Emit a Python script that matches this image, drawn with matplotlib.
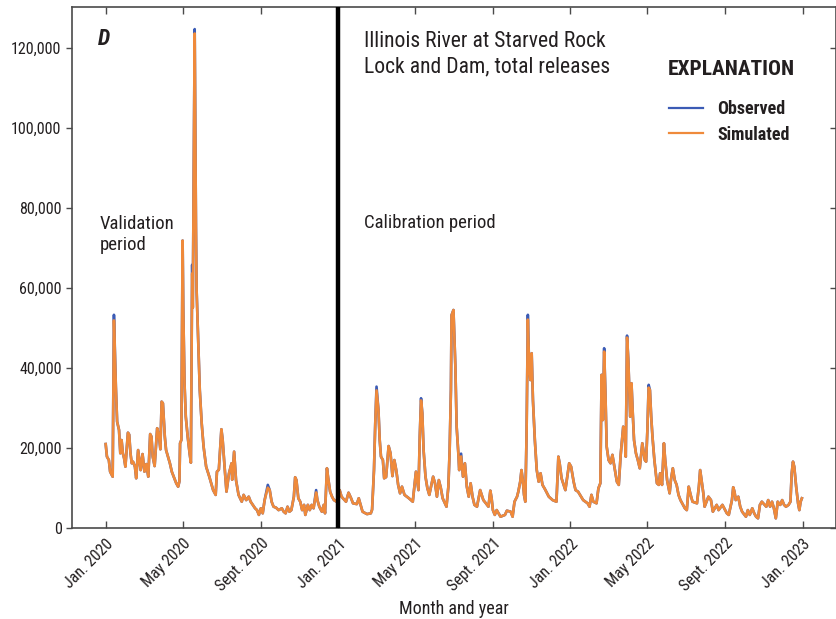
import matplotlib
matplotlib.use("Agg")
import matplotlib.pyplot as plt
from matplotlib.ticker import FuncFormatter
import pandas as pd

plt.rcParams['font.family'] = ['Roboto Condensed', 'DejaVu Sans']

# daily record starts 2020-01-01; day = days since that date
day = [0, 2, 5, 7, 11, 13, 16, 18, 21, 23, 25, 27, 29, 31, 35, 37, 39, 41, 43, 46,
       48, 51, 55, 58, 61, 64, 67, 70, 72, 74, 77, 81, 84, 86, 88, 90, 93, 95, 101, 104,
       107, 111, 114, 116, 117, 119, 121, 122, 124, 126, 129, 132, 134, 136, 137, 140, 142, 143, 145, 148,
       151, 154, 158, 163, 169, 173, 175, 178, 182, 184, 187, 190, 194, 198, 199, 202, 205, 209, 214, 217,
       221, 225, 228, 235, 238, 241, 244, 247, 250, 255, 258, 261, 264, 268, 272, 277, 280, 283, 286, 289,
       292, 296, 298, 300, 303, 306, 309, 312, 314, 318, 321, 324, 327, 331, 333, 336, 340, 343, 345, 348,
       350, 353, 356, 359, 363, 368, 371, 378, 382, 386, 389, 395, 398, 401, 404, 411, 417, 419, 422, 424,
       426, 429, 431, 433, 436, 438, 441, 445, 448, 451, 454, 457, 460, 463, 466, 470, 477, 483, 486, 488,
       492, 494, 496, 498, 500, 503, 506, 509, 515, 518, 521, 524, 527, 530, 536, 539, 541, 543, 544, 547,
       550, 552, 555, 556, 559, 562, 565, 568, 571, 574, 577, 580, 584, 589, 594, 598, 602, 605, 607, 609,
       612, 615, 618, 621, 628, 631, 637, 640, 643, 647, 649, 652, 654, 656, 658, 660, 662, 664, 666, 668,
       670, 672, 675, 678, 681, 684, 687, 691, 697, 703, 709, 712, 714, 717, 723, 726, 729, 732, 736, 739,
       743, 751, 758, 761, 764, 767, 772, 775, 778, 780, 782, 784, 786, 788, 791, 794, 797, 801, 804, 807,
       810, 814, 816, 818, 820, 822, 825, 827, 829, 831, 834, 837, 840, 844, 848, 850, 852, 854, 856, 858,
       860, 863, 867, 870, 872, 875, 878, 880, 883, 887, 889, 892, 895, 898, 901, 904, 911, 914, 917, 920,
       923, 930, 933, 935, 940, 942, 948, 952, 955, 961, 964, 970, 977, 980, 985, 987, 989, 991, 995, 998,
       1001, 1007, 1010, 1013, 1017, 1020, 1023, 1026, 1029, 1032, 1039, 1042, 1045, 1048, 1051, 1054, 1057, 1061, 1064, 1067,
       1070, 1074, 1077, 1079, 1081, 1083, 1086, 1089, 1091, 1093, 1095]

# observed total releases, cubic feet per second
observed = [20900, 17750, 16900, 14000, 12750, 53200, 35250, 26500, 24400, 18600, 21900, 18600, 17350, 15250, 23750, 23250, 18600, 16100, 16500, 15250,
            12350, 19400, 14400, 18400, 14000, 15900, 12750, 23400, 22750, 17750, 15400, 24850, 22750, 19600, 31500, 31100, 22750, 19400, 16100, 14000,
            12750, 11100, 10250, 11600, 21100, 21900, 71750, 55000, 36000, 27750, 22750, 18600, 16250, 65700, 55000, 124600, 75000, 59400, 49400, 34400,
            26100, 20250, 15250, 12750, 9400, 8200, 14000, 14500, 24600, 21900, 15250, 9000, 13600, 16100, 12000, 19000, 11900, 8200, 6500, 8200,
            6900, 7750, 6500, 4850, 4400, 3200, 4850, 3600, 6900, 10700, 9400, 6500, 5250, 5000, 4400, 4850, 4000, 3600, 5250, 4000,
            4400, 7750, 12600, 11900, 7350, 6500, 4400, 5700, 3200, 5700, 4400, 5700, 4850, 9400, 6900, 5250, 4000, 5700, 3600, 14850,
            12350, 9000, 7750, 6900, 6500, 9400, 7750, 6500, 8750, 7350, 6100, 5900, 7350, 5700, 4000, 3400, 3600, 4500, 14400, 26100,
            35250, 29400, 21900, 17750, 16900, 12350, 12650, 20400, 18600, 12900, 16900, 14400, 10700, 8600, 10250, 8200, 7350, 6500, 11100, 14000,
            9400, 22750, 32350, 28600, 19400, 12750, 9850, 8200, 12750, 11100, 7750, 11900, 10000, 7350, 5250, 10250, 19400, 34400, 53100, 54400,
            40250, 25250, 17750, 14400, 18500, 12750, 16100, 10250, 7750, 11100, 7750, 5700, 5250, 9400, 6900, 6100, 5250, 9250, 7350, 4400,
            3200, 4400, 3600, 2750, 3200, 4250, 4000, 2750, 6500, 7750, 9000, 11500, 14400, 11900, 8200, 6500, 23600, 53200, 40250, 36900,
            43600, 31900, 21900, 14400, 11500, 13600, 10700, 9600, 7750, 6900, 6500, 17750, 16100, 12350, 9400, 12750, 16100, 15250, 11500, 9400,
            9000, 6900, 6100, 5250, 8200, 6500, 6100, 9850, 11100, 38200, 26900, 44850, 33600, 20250, 16900, 16100, 18200, 14400, 11500, 10700,
            18200, 25250, 24400, 17750, 48000, 41900, 27750, 36100, 28600, 21900, 18600, 16900, 14850, 21100, 16900, 16500, 24400, 35700, 34400, 27750,
            22750, 16900, 11100, 10700, 13600, 10700, 21100, 16900, 11900, 8600, 11900, 14850, 11900, 10700, 8200, 6900, 4850, 4400, 10250, 8200,
            6500, 6100, 10250, 14400, 8600, 5250, 7750, 6900, 4000, 5700, 4400, 5700, 3600, 3200, 6900, 10100, 9000, 6900, 7750, 5250,
            4000, 2750, 4400, 3200, 4850, 3600, 2750, 2350, 5700, 6500, 5250, 6900, 5250, 6500, 4850, 2350, 6500, 5700, 6900, 5700,
            5250, 5700, 6500, 13600, 16500, 15250, 10250, 6100, 4400, 6500, 7350]

# simulated releases follow the observed record except on these days
sim_days = [13, 136, 140, 255, 331, 426, 496, 559, 664, 784, 820, 854]
sim_values = [51800, 63500, 123500, 10000, 8800, 34300, 31800, 17800, 52000, 44000, 47500, 35000]

tick_months = ['2020-01-01', '2020-05-01', '2020-09-01', '2021-01-01', '2021-05-01', '2021-09-01',
               '2022-01-01', '2022-05-01', '2022-09-01', '2023-01-01']
tick_labels = ['Jan. 2020', 'May 2020', 'Sept. 2020', 'Jan. 2021', 'May 2021', 'Sept. 2021',
               'Jan. 2022', 'May 2022', 'Sept. 2022', 'Jan. 2023']
split_date = '2021-01-01'

simulated = list(observed)
for d, v in zip(sim_days, sim_values):
    simulated[day.index(d)] = v

dates = pd.Timestamp('2020-01-01') + pd.to_timedelta(day, unit='D')

fig = plt.figure(figsize=(8.36, 6.19), dpi=100)
ax = fig.add_axes([0.0861, 0.1475, 0.9134, 0.8404])

ax.plot(dates, observed, color='#3b5bb5', lw=1.9, label='Observed', zorder=2)
ax.plot(dates, simulated, color='#ef8a3b', lw=1.9, label='Simulated', zorder=3)
ax.axvline(pd.Timestamp(split_date), color='black', lw=3.2, zorder=4)

ax.set_xlim(pd.Timestamp('2019-11-09'), pd.Timestamp('2023-02-22'))
ax.set_ylim(0, 130000)
ax.set_yticks(range(0, 130000, 20000))
ax.yaxis.set_major_formatter(FuncFormatter(lambda v, p: f'{int(v):,}'))
ax.set_xticks(pd.to_datetime(tick_months))
ax.set_xticklabels(tick_labels, rotation=45, ha='right', rotation_mode='anchor')

for s in ax.spines.values():
    s.set_color('#4a4a4a')
    s.set_linewidth(1.2)
ax.tick_params(axis='y', direction='out', length=4, width=1, color='#4a4a4a',
               labelsize=11.5, labelcolor='#231f20', right=True)
ax.tick_params(axis='x', direction='in', length=5, width=1, color='#4a4a4a', top=True,
               labelsize=11.5, labelcolor='#231f20', pad=6)
# right-hand ticks point into the plot
for t in ax.yaxis.get_major_ticks():
    t.tick2line.set_marker(matplotlib.lines.TICKLEFT)

ax.set_xlabel('Month and year', fontsize=13, color='#231f20', labelpad=4)

tr = ax.transAxes
ax.text(0.034, 0.939, 'D', transform=tr, fontsize=16, fontweight='bold', fontstyle='italic',
        va='center', ha='left', color='#231f20')
ax.text(0.383, 0.911, 'Illinois River at Starved Rock\nLock and Dam, total releases',
        transform=tr, fontsize=15.6, va='center', ha='left', color='#231f20', linespacing=1.27)
ax.text(0.0367, 0.563, 'Validation\nperiod', transform=tr, fontsize=13.5, va='center',
        ha='left', color='#231f20', linespacing=1.2)
ax.text(0.383, 0.586, 'Calibration period', transform=tr, fontsize=13.5, va='center',
        ha='left', color='#231f20')
ax.text(0.780, 0.881, 'EXPLANATION', transform=tr, fontsize=15.4, fontweight='bold',
        va='center', ha='left', color='#231f20')

leg = ax.legend(loc='upper left', bbox_to_anchor=(0.782, 0.822), frameon=False,
                borderpad=0, borderaxespad=0, handlelength=1.9, handletextpad=0.75,
                labelspacing=0.42, prop={'size': 13, 'weight': 'bold'})
for h in leg.get_lines():
    h.set_linewidth(1.6)
for t in leg.get_texts():
    t.set_color('#231f20')

fig.savefig('out.png', dpi=100)
